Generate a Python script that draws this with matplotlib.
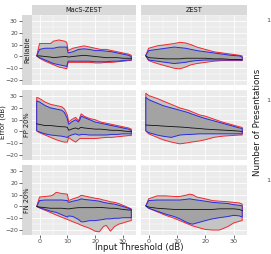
import numpy as np
import matplotlib
matplotlib.use("Agg")
import matplotlib.pyplot as plt

# column / row facets
methods = ["MacS-ZEST", "ZEST"]
conditions = ["Reliable", "FP 20%", "FN 20%"]

# Reliable, MacS-ZEST
rel_macs_x = [-1, 0, 2, 4, 5, 7, 9, 9.8, 10.3, 12, 14, 16, 18, 20, 22, 24, 26, 28, 30, 32, 33]
rel_macs_red_hi = [0.5, 11, 11, 11, 13, 14, 13, 12, 5, 7, 8, 9, 8, 7, 6, 6, 5, 4, 3, 2, 1]
rel_macs_blue_hi = [0.5, 6, 7, 7, 7, 8, 8, 8, 3, 4, 6, 6.5, 6, 5, 5, 4.5, 4, 3, 2, 1, 0]
rel_macs_med = [0.5, 0.5, 0, -0.5, -1, -0.5, 0, 0, -0.5, 0, 0.5, 1, 0.5, 0, -0.5, -1, -1, -1, -1.5, -1.5, -1.5]
rel_macs_blue_lo = [0.5, -1, -3, -5, -6, -7, -8, -8.5, -4, -4, -4, -4, -4, -4.5, -4.5, -4.5, -4, -4, -3.5, -3, -3]
rel_macs_red_lo = [0.5, -1.5, -4, -6, -7, -9, -10, -10.5, -5, -5, -5, -5, -5, -5.5, -5.5, -5, -5, -4.5, -4, -3.5, -3.5]

# Reliable, ZEST
rel_zest_x = [-1, 0, 3, 6, 9, 11, 13, 15, 17, 20, 23, 26, 29, 32, 33]
rel_zest_red_hi = [1, 7, 9, 10, 11, 12, 11.5, 10, 8, 6, 4, 3, 2, 1, 0.5]
rel_zest_blue_hi = [1, 5, 6, 7, 8, 7.5, 7, 6, 5, 4, 3, 2, 1, 0.5, -0.5]
rel_zest_med = [0.5, -1, -1.5, -2, -2, -2, -1.5, -1.5, -1.5, -1.5, -2, -2, -2.5, -2.5, -3]
rel_zest_blue_lo = [0.5, -3, -4, -5, -6, -5.5, -5, -4, -3.5, -3, -3, -3, -3, -3, -3]
rel_zest_red_lo = [0.5, -3.5, -6, -8, -10, -10.5, -9, -7, -6, -5, -4, -3.5, -3.5, -3.5, -3.5]

# FP 20%, MacS-ZEST
fp_macs_x = [-1, 0, 2, 4, 6, 8, 9, 10, 10.5, 11.5, 13, 14, 14.5, 15, 16, 18, 20, 22, 24, 26, 28, 30, 32, 33]
fp_macs_red_hi = [29, 28, 25, 23, 22, 21, 19, 14, 8, 10, 12, 9, 12, 15, 13, 11, 10, 8, 7, 6, 5, 4, 3, 2]
fp_macs_blue_hi = [26, 25, 22, 20, 19, 18, 16, 11, 6, 8, 10, 8, 10, 13, 12, 10, 8, 7, 6, 5, 4, 3, 2, 1]
fp_macs_med = [6.5, 6, 5, 5, 4.5, 4, 4, 3.5, 1, 2, 3, 2, 3, 3.5, 3, 2.5, 2, 2, 1.5, 1, 1, 0.5, 0, 0]
fp_macs_blue_lo = [0.5, -0.5, -2, -3, -3.5, -4, -4.5, -5, -4, -3, -2, -3, -3, -2.5, -2.5, -3, -3, -3, -3, -2.5, -2.5, -2, -2, -2]
fp_macs_red_lo = [0.5, -1, -3, -5, -7, -8.5, -9, -9, -5, -7, -9, -7, -6, -6, -6, -6, -6, -5.5, -5, -5, -4.5, -4, -3.5, -3.5]

# FP 20%, ZEST
fp_zest_x = [-1, 0, 3, 5, 8, 11, 14, 15, 18, 20, 23, 26, 29, 32, 33]
fp_zest_red_hi = [32.5, 30.5, 28, 26, 23, 20, 18, 17, 14, 13, 10.5, 8, 6, 4, 3.5]
fp_zest_blue_hi = [29, 27, 24, 22, 20, 18, 16, 15, 12.5, 11, 9, 7, 5, 3, 2.5]
fp_zest_med = [5.5, 5.3, 5, 4.6, 4.2, 3.8, 3.3, 3, 2.5, 2, 1.6, 1.2, 0.8, 0.3, 0]
fp_zest_blue_lo = [0.5, -1, -3, -4, -5, -3, -2.5, -2.5, -2, -2, -2, -2, -2, -2, -2]
fp_zest_red_lo = [0.5, -2, -5, -7, -9, -10.5, -9.5, -9, -8, -7, -5, -4, -3.5, -3, -3]

# FN 20%, MacS-ZEST
fn_macs_x = [-1, 0, 2, 4, 5, 6, 8, 10, 10.5, 12, 14, 15, 16, 18, 20, 21.5, 23, 24, 25.5, 27, 28.5, 30, 32, 33]
fn_macs_red_hi = [0, 8, 8.5, 9, 10, 12, 11, 10.5, 5, 6.5, 8, 9.5, 9, 8, 7, 6.5, 5.5, 5, 4, 3.5, 2.5, 1, -1, -2]
fn_macs_blue_hi = [0, 5, 5.5, 5.5, 5.5, 5.5, 5.5, 5, 3.5, 4.5, 5.5, 6.5, 6, 5.5, 5, 4.5, 3.5, 3, 2.5, 2, 1, 0, -1.5, -2.5]
fn_macs_med = [0, -0.5, -1, -1.5, -1.5, -1.5, -1.5, -2, -2, -1.5, -1, -1, -1, -1, -1, -0.8, -1, -1.2, -1.5, -1.5, -2, -2.5, -3, -3]
fn_macs_blue_lo = [0, -1, -2.5, -4, -4.5, -5, -7, -9, -8, -8.5, -11, -13, -13, -12, -12, -11.5, -11, -10.5, -10.5, -10, -10, -9.5, -9.5, -9.5]
fn_macs_red_lo = [0, -1.2, -3.2, -5.2, -6.2, -7.2, -9.2, -11, -11.5, -13, -14.8, -16, -16.8, -18.5, -21, -21.5, -17, -16, -21, -17, -15, -14, -12.5, -12]

# FN 20%, ZEST
fn_zest_x = [-1, 0, 3, 6, 9, 11, 13, 14.5, 15.5, 17, 20, 22.5, 25, 28, 30, 32, 33]
fn_zest_red_hi = [0.5, 6.5, 9, 9, 8.5, 8.5, 9.5, 10.5, 10, 8, 6.5, 5, 4.5, 4, 3.5, 3, 2]
fn_zest_blue_hi = [0.5, 5, 5.5, 5.5, 5.5, 5.5, 6, 6.5, 6, 5.5, 4.5, 3.5, 3, 2.5, 1.5, 1, 0.5]
fn_zest_med = [0.5, -0.5, -1.5, -2, -2.5, -2.5, -2.5, -2.5, -2.5, -2.5, -2.5, -2.5, -2, -2, -2, -2.5, -3.5]
fn_zest_blue_lo = [0.5, -1.5, -4, -6.5, -8.5, -10.5, -13, -14.5, -15, -14, -12, -10.5, -9.5, -8.5, -7.5, -8, -9]
fn_zest_red_lo = [0.5, -1.5, -4.5, -7.5, -10, -12, -14, -15.5, -16.5, -17.5, -19.5, -20, -20, -17, -14, -12.5, -12]

x_ticks = [0, 10, 20, 30]
y_ticks = [-20, -10, 0, 10, 20, 30]

panels = [
    [(rel_macs_x, rel_macs_red_hi, rel_macs_blue_hi, rel_macs_med, rel_macs_blue_lo, rel_macs_red_lo),
     (rel_zest_x, rel_zest_red_hi, rel_zest_blue_hi, rel_zest_med, rel_zest_blue_lo, rel_zest_red_lo)],
    [(fp_macs_x, fp_macs_red_hi, fp_macs_blue_hi, fp_macs_med, fp_macs_blue_lo, fp_macs_red_lo),
     (fp_zest_x, fp_zest_red_hi, fp_zest_blue_hi, fp_zest_med, fp_zest_blue_lo, fp_zest_red_lo)],
    [(fn_macs_x, fn_macs_red_hi, fn_macs_blue_hi, fn_macs_med, fn_macs_blue_lo, fn_macs_red_lo),
     (fn_zest_x, fn_zest_red_hi, fn_zest_blue_hi, fn_zest_med, fn_zest_blue_lo, fn_zest_red_lo)],
]

# ggplot-like limits (5% expansion)
all_x = np.concatenate([np.array(p[0]) for row in panels for p in row])
all_y = np.concatenate([np.array(s) for row in panels for p in row for s in p[1:]])
xr = all_x.max() - all_x.min()
yr = all_y.max() - all_y.min()
xlim = (all_x.min() - 0.05 * xr, all_x.max() + 0.05 * xr)
ylim = (all_y.min() - 0.05 * yr, all_y.max() + 0.05 * yr)

W, H = 271, 254
fig = plt.figure(figsize=(W / 100, H / 100), dpi=100)

def box(x0, y0, x1, y1):
    # pixel box (top-left origin) -> figure fraction
    return [x0 / W, 1 - y1 / H, (x1 - x0) / W, (y1 - y0) / H]

col_px = [(32, 136), (141, 247)]
row_px = [(15, 85), (90, 160), (165, 235)]
bg = "#EBEBEB"
strip_bg = "#D9D9D9"
tick_col = "#4D4D4D"

def minor_between(ticks, lim):
    m = [(a + b) / 2 for a, b in zip(ticks[:-1], ticks[1:])]
    step = ticks[1] - ticks[0]
    m = [ticks[0] - step / 2] + m + [ticks[-1] + step / 2]
    return [v for v in m if lim[0] <= v <= lim[1]]

for r, (ry0, ry1) in enumerate(row_px):
    # left strip carries the y axis
    sax = fig.add_axes(box(22, ry0, 32, ry1))
    sax.set_facecolor(strip_bg)
    sax.set_ylim(ylim)
    sax.set_xticks([])
    sax.set_yticks(y_ticks)
    sax.tick_params(axis="y", length=2, width=0.5, color="#333333", labelsize=4.4,
                    labelcolor=tick_col, pad=1)
    for s in sax.spines.values():
        s.set_visible(False)
    sax.text(0.5, 0.5, conditions[r], transform=sax.transAxes, rotation=90,
             ha="center", va="center", fontsize=4.8, color="#1A1A1A")

    for c, (cx0, cx1) in enumerate(col_px):
        ax = fig.add_axes(box(cx0, ry0, cx1, ry1))
        ax.set_facecolor(bg)
        ax.set_xlim(xlim)
        ax.set_ylim(ylim)
        for s in ax.spines.values():
            s.set_visible(False)
        for v in minor_between(x_ticks, xlim):
            ax.axvline(v, color="white", lw=0.3, zorder=0)
        for v in minor_between(y_ticks, ylim):
            ax.axhline(v, color="white", lw=0.3, zorder=0)
        for v in x_ticks:
            ax.axvline(v, color="white", lw=0.6, zorder=0)
        for v in y_ticks:
            ax.axhline(v, color="white", lw=0.6, zorder=0)

        x, red_hi, blue_hi, med, blue_lo, red_lo = [np.array(a, dtype=float) for a in panels[r][c]]
        ax.fill(np.r_[x, x[::-1]], np.r_[red_hi, red_lo[::-1]], facecolor="#C4C4C4",
                edgecolor="#F0282D", lw=0.7, zorder=2)
        ax.fill(np.r_[x, x[::-1]], np.r_[blue_hi, blue_lo[::-1]], facecolor="#A3A3A3",
                edgecolor="#2B2BE0", lw=0.7, zorder=3)
        ax.plot(x, med, color="#111111", lw=0.6, zorder=4)

        ax.set_yticks([])
        if r == 2:
            ax.set_xticks(x_ticks)
            ax.tick_params(axis="x", length=2, width=0.5, color="#333333", labelsize=4.6,
                           labelcolor=tick_col, pad=1)
        else:
            ax.set_xticks([])

        if r == 0:
            tax = fig.add_axes(box(cx0, 5, cx1, 15))
            tax.set_facecolor(strip_bg)
            tax.set_xticks([])
            tax.set_yticks([])
            for s in tax.spines.values():
                s.set_visible(False)
            tax.text(0.5, 0.5, methods[c], transform=tax.transAxes, ha="center",
                     va="center", fontsize=4.8, color="#1A1A1A")

fig.text(139.5 / W, 1 - 248 / H, "Input Threshold (dB)", ha="center", va="center",
         fontsize=6.2, color="#1A1A1A")
fig.text(2.8 / W, 1 - 122 / H, "Error (dB)", ha="center", va="center", rotation=90,
         fontsize=5.0, color="#1A1A1A")
fig.text(258 / W, 1 - 122 / H, "Number of Presentations", ha="center", va="center",
         rotation=90, fontsize=6.2, color="#1A1A1A")
for yy in [21, 100, 180]:
    fig.text(266 / W, 1 - yy / H, "1", ha="left", va="center", fontsize=4.6, color=tick_col)

fig.savefig("out.png", dpi=100, facecolor="white")
